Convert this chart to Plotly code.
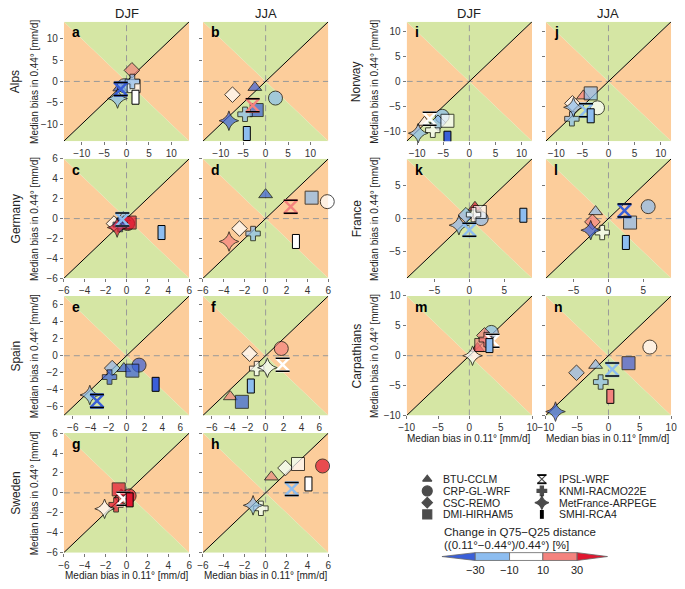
import plotly.graph_objects as go

W, H = 685, 589

models = ["BTU-CCLM", "CRP-GL-WRF", "CSC-REMO", "DMI-HIRHAM5",
          "IPSL-WRF", "KNMI-RACMO22E", "MetFrance-ARPEGE", "SMHI-RCA4"]
symbols = ["triangle-up", "circle", "diamond", "square",
           "hourglass-open", "cross", "star-diamond", "rect"]
sizes = [12, 14, 12, 13, 13, 12, 14, 0]

cat_keys = ["db", "lb", "w", "lr", "r"]
cat_colors = {"db": "#3a5fd8", "lb": "#8dbdf0", "w": "#ffffff",
              "lr": "#f4837e", "r": "#e0162f"}
cbar_ticks = ["\u221230", "\u221210", "10", "30"]

GREEN = "#d5e6a4"
ORANGE = "#fccd9b"

# ---- data (model order as in `models`) ----
a_x = [-1.5, -0.5, 1.2, 1.6, -1.3, 1.3, -2.0, 2.0]
a_y = [-1.5, -1.0, 2.6, -1.1, -1.8, 0.0, -4.0, -3.7]
a_c = ["db", "lb", "lr", "w", "db", "lb", "lb", "w"]

b_x = [-2.4, 2.2, -7.4, -2.0, -2.9, -4.6, -8.2, -4.2]
b_y = [-1.4, -3.9, -3.1, -6.7, -5.6, -7.7, -9.2, -12.2]
b_c = ["db", "lb", "w", "db", "lr", "lb", "db", "lb"]

c_x = [-0.3, 0.1, -1.2, 0.3, -0.4, -0.6, -0.9, 3.35]
c_y = [0.1, -0.5, -0.5, -0.4, -0.1, -0.6, -0.9, -1.4]
c_c = ["lb", "r", "w", "r", "lb", "db", "r", "lb"]

d_x = [0.0, 5.9, -2.5, 4.4, 2.4, -1.2, -3.5, 2.9]
d_y = [2.4, 1.7, -1.0, 2.1, 1.2, -1.5, -2.3, -2.3]
d_c = ["db", "w", "w", "lb", "lr", "lb", "lr", "w"]

e_x = [-0.3, 1.4, -1.6, 0.65, -3.3, -1.9, -4.1, 3.25]
e_y = [-1.5, -1.1, -1.45, -1.75, -5.3, -2.5, -4.6, -3.35]
e_c = ["db", "db", "lb", "db", "db", "db", "lb", "db"]

f_x = [-3.95, 1.75, -1.8, -2.65, 1.9, -1.0, 0.2, -1.65]
f_y = [-4.8, 0.85, 0.25, -5.4, -1.05, -1.5, -1.4, -3.55]
f_c = ["lr", "lr", "w", "db", "w", "w", "w", "lb"]

g_x = [-0.5, 0.25, -0.4, -0.75, -0.3, -1.0, -2.1, 0.3]
g_y = [-0.2, -0.3, -0.5, 0.35, -0.6, -1.2, -1.6, -0.7]
g_c = ["r", "r", "lr", "r", "w", "r", "w", "r"]

h_x = [0.55, 5.45, 1.9, 3.1, 2.5, -0.45, -1.2, 4.1]
h_y = [1.6, 2.7, 2.5, 2.9, 0.4, -1.55, -1.25, 0.9]
h_c = ["lr", "r", "w", "w", "lb", "w", "lb", "w"]

i_x = [-8.6, -5.2, -6.0, -4.2, -7.6, -7.0, -9.8, -4.2]
i_y = [-8.2, -7.0, -8.3, -7.9, -7.5, -9.8, -10.4, -11.4]
i_c = ["w", "lb", "lb", "w", "w", "w", "lb", "db"]

j_x = [-4.8, -2.1, -6.9, -3.4, -4.3, -7.0, -6.7, -3.4]
j_y = [-2.9, -5.3, -4.4, -2.4, -5.8, -7.5, -5.2, -6.9]
j_c = ["lr", "w", "w", "lb", "lb", "lb", "lb", "lb"]

k_x = [0.8, 1.7, -0.5, 1.5, 0.0, 0.6, -1.5, 7.75]
k_y = [1.7, 0.0, 0.5, 1.0, -1.7, 0.6, -1.0, 0.5]
k_c = ["r", "lb", "lb", "w", "lb", "w", "lb", "lb"]

l_x = [-1.85, 5.7, -2.3, 3.1, 2.3, -0.9, -2.55, 2.5]
l_y = [1.05, 1.8, -0.5, -0.6, 1.2, -2.1, -1.75, -3.6]
l_c = ["lb", "lb", "lr", "lb", "db", "w", "db", "lb"]

m_x = [1.3, 3.5, 2.4, 1.9, 3.7, 2.7, 0.5, 3.2]
m_y = [1.2, 3.9, 3.4, 1.8, 2.5, 2.7, 0.0, 1.7]
m_c = ["r", "lb", "lr", "lr", "w", "lr", "w", "lb"]

n_x = [-2.05, 6.6, -5.1, 3.2, 0.6, -1.25, -8.45, 0.3]
n_y = [-1.6, 1.45, -2.85, -1.25, -2.3, -4.4, -9.35, -6.8]
n_c = ["lb", "w", "lb", "db", "lb", "lb", "db", "lr"]

regions = ["Alps", "Germany", "Spain", "Sweden", "Norway", "France", "Carpathians"]
region_ranges = [14, 6, 7, 6, 12, 9, 10]
region_ticks = [[-10, -5, 0, 5, 10], [-6, -4, -2, 0, 2, 4, 6], [-6, -4, -2, 0, 2, 4, 6],
                [-6, -4, -2, 0, 2, 4, 6], [-10, -5, 0, 5, 10], [-5, 0, 5],
                [-10, -5, 0, 5, 10]]
seasons = ["DJF", "JJA"]

panel_data = [
    ("a", a_x, a_y, a_c), ("b", b_x, b_y, b_c),
    ("c", c_x, c_y, c_c), ("d", d_x, d_y, d_c),
    ("e", e_x, e_y, e_c), ("f", f_x, f_y, f_c),
    ("g", g_x, g_y, g_c), ("h", h_x, h_y, h_c),
    ("i", i_x, i_y, i_c), ("j", j_x, j_y, j_c),
    ("k", k_x, k_y, k_c), ("l", l_x, l_y, l_c),
    ("m", m_x, m_y, m_c), ("n", n_x, n_y, n_c),
]

# ---- layout geometry (pixels) ----
col_px = {("L", 0): (57, 185), ("L", 1): (199, 327),
          ("R", 0): (407, 535), ("R", 1): (549, 677)}
row_px = [(16, 138), (156, 278), (296, 418), (436, 558)]

fig = go.Figure()
layout = dict(width=W, height=H, margin=dict(l=0, r=0, t=0, b=0),
              paper_bgcolor="white", plot_bgcolor="rgba(0,0,0,0)",
              showlegend=False, font=dict(family="Liberation Sans", color="#222"))
shapes = []
annotations = []
OV = ("x15", "y15")


def ann(x, y, text, size=10, angle=0, xanchor="center", yanchor="middle", bold=False, color="#222"):
    annotations.append(dict(xref=OV[0], yref=OV[1], x=x, y=y, text=("<b>%s</b>" % text) if bold else text,
                            showarrow=False, textangle=angle, xanchor=xanchor, yanchor=yanchor,
                            font=dict(size=size, color=color, family="Liberation Sans")))


def hourglass_bars(xref, yref, xv, yv, half):
    for yy in (half, -half):
        shapes.append(dict(type="line", xref=xref, yref=yref, xsizemode="pixel", ysizemode="pixel",
                           xanchor=xv, yanchor=yv, x0=-half - 0.5, x1=half + 0.5, y0=yy, y1=yy,
                           line=dict(color="black", width=1.5), layer="above"))


for p, (letter, xs, ys, cs) in enumerate(panel_data):
    n = p + 1
    block = "L" if p < 8 else "R"
    q = p if p < 8 else p - 8
    row, col = q // 2, q % 2
    reg = row if block == "L" else 4 + row
    R = region_ranges[reg]
    tv = region_ticks[reg]
    x0, x1 = col_px[(block, col)]
    y0, y1 = row_px[row]
    xname = "xaxis" if n == 1 else "xaxis%d" % n
    yname = "yaxis" if n == 1 else "yaxis%d" % n
    xr = "x" if n == 1 else "x%d" % n
    yr = "y" if n == 1 else "y%d" % n
    axcommon = dict(range=[-R, R], tickvals=tv, showgrid=False, zeroline=False, showline=False,
                    ticks="outside", ticklen=3, tickcolor="#777", tickwidth=1,
                    tickfont=dict(size=10, color="#333", family="Liberation Sans"), fixedrange=True)
    layout[xname] = dict(axcommon, domain=[x0 / W, x1 / W], anchor=yr)
    layout[yname] = dict(axcommon, domain=[1 - y1 / H, 1 - y0 / H], anchor=xr,
                         showticklabels=(col == 0))

    # background triangles (left/right orange, top/bottom green)
    tris = [([-R, 0, -R, -R], [-R, 0, R, -R], ORANGE),
            ([R, 0, R, R], [-R, 0, R, -R], ORANGE),
            ([-R, 0, R, -R], [R, 0, R, R], GREEN),
            ([-R, 0, R, -R], [-R, 0, -R, -R], GREEN)]
    for tx_, ty_, colr in tris:
        fig.add_trace(go.Scatter(x=tx_, y=ty_, mode="lines", fill="toself", fillcolor=colr,
                                 line=dict(width=0, color=colr), xaxis=xr, yaxis=yr,
                                 hoverinfo="skip"))
    fig.add_trace(go.Scatter(x=[0, 0], y=[-R, R], mode="lines", xaxis=xr, yaxis=yr,
                             line=dict(color="#999", width=1, dash="6px,4px"), hoverinfo="skip"))
    fig.add_trace(go.Scatter(x=[-R, R], y=[0, 0], mode="lines", xaxis=xr, yaxis=yr,
                             line=dict(color="#999", width=1, dash="6px,4px"), hoverinfo="skip"))
    fig.add_trace(go.Scatter(x=[-R, R], y=[-R, R], mode="lines", xaxis=xr, yaxis=yr,
                             line=dict(color="black", width=1), hoverinfo="skip"))

    # filled markers
    idx = [i for i in range(len(models)) if symbols[i] not in ("hourglass-open", "rect")]
    fig.add_trace(go.Scatter(
        x=[xs[i] for i in idx], y=[ys[i] for i in idx], mode="markers", xaxis=xr, yaxis=yr,
        cliponaxis=False, hoverinfo="skip",
        marker=dict(symbol=[symbols[i] for i in idx], size=[sizes[i] for i in idx],
                    color=[cat_colors[cs[i]] for i in idx],
                    line=dict(color="black", width=1))))
    # hourglass (IPSL)
    hi = symbols.index("hourglass-open")
    fig.add_trace(go.Scatter(
        x=[xs[hi]], y=[ys[hi]], mode="markers", xaxis=xr, yaxis=yr, cliponaxis=False,
        hoverinfo="skip",
        marker=dict(symbol="hourglass-open", size=sizes[hi], color=cat_colors[cs[hi]],
                    line=dict(width=2.4))))
    hourglass_bars(xr, yr, xs[hi], ys[hi], sizes[hi] / 2)
    # SMHI rectangle
    ri = symbols.index("rect")
    shapes.append(dict(type="rect", xref=xr, yref=yr, xsizemode="pixel", ysizemode="pixel",
                       xanchor=xs[ri], yanchor=ys[ri], x0=-3.5, x1=3.5, y0=-7, y1=7,
                       fillcolor=cat_colors[cs[ri]], line=dict(color="black", width=1),
                       layer="above"))

    # panel letter
    ann(x0 + 6, y0 + 11, letter, size=14, xanchor="left", bold=True, color="black")
    # column titles
    if row == 0:
        ann((x0 + x1) / 2, 8, seasons[col], size=13)
    # region labels & y titles
    if col == 0:
        cy = (y0 + y1) / 2
        rx = 8 if block == "L" else 356
        tx = 27 if block == "L" else 374
        ann(rx, cy, regions[reg], size=12, angle=-90)
        ann(tx, cy, "Median bias in 0.44\u00b0 [mm/d]", size=10, angle=-90)
    # x titles on bottom panels
    if (block == "L" and row == 3) or (block == "R" and row == 2):
        ann((x0 + x1) / 2, y1 + 23, "Median bias in 0.11\u00b0 [mm/d]", size=10)

# ---- overlay pixel axis for legend / colorbar ----
layout["xaxis15"] = dict(domain=[0, 1], range=[0, W], visible=False, fixedrange=True, anchor="y15")
layout["yaxis15"] = dict(domain=[0, 1], range=[H, 0], visible=False, fixedrange=True, anchor="x15")

leg_cols = [(428, 442), (545, 560)]
leg_rows = [483, 495, 507, 519]
lx, ly, lsym, lsize = [], [], [], []
for i, name in enumerate(models):
    c = i // 4
    r = i % 4
    sx, tx = leg_cols[c]
    yy = leg_rows[r]
    ann(tx, yy, name, size=10.5, xanchor="left")
    if symbols[i] == "rect":
        shapes.append(dict(type="rect", xref="x15", yref="y15", x0=sx - 2, x1=sx + 2,
                           y0=yy - 4.5, y1=yy + 4.5, fillcolor="black", line=dict(width=0)))
    else:
        lx.append(sx)
        ly.append(yy)
        lsym.append(symbols[i])
        lsize.append(max(sizes[i] - 4, 8))
        if symbols[i] == "hourglass-open":
            for yb in (yy - 4, yy + 4):
                shapes.append(dict(type="line", xref="x15", yref="y15", x0=sx - 4.5, x1=sx + 4.5,
                                   y0=yb, y1=yb, line=dict(color="black", width=1.5)))
fig.add_trace(go.Scatter(x=lx, y=ly, mode="markers", xaxis="x15", yaxis="y15", hoverinfo="skip",
                         cliponaxis=False,
                         marker=dict(symbol=lsym, size=lsize, color="black",
                                     line=dict(color="black", width=1.2))))

ann(443, 537, "Change in Q75\u2212Q25 distance", size=11.5, xanchor="left")
ann(443, 550, "((0.11\u00b0\u22120.44\u00b0)/0.44\u00b0) [%]", size=11.5, xanchor="left")

cb_edges = [443, 477, 512, 546, 581, 612]
cb_top, cb_bot = 558, 566
cb_mid = (cb_top + cb_bot) / 2
for k, key in enumerate(cat_keys):
    xa, xb = cb_edges[k], cb_edges[k + 1]
    if k == 0:
        path = "M %g,%g L %g,%g L %g,%g Z" % (xa, cb_mid, xb, cb_top, xb, cb_bot)
    elif k == len(cat_keys) - 1:
        path = "M %g,%g L %g,%g L %g,%g Z" % (xa, cb_top, xb, cb_mid, xa, cb_bot)
    else:
        path = "M %g,%g L %g,%g L %g,%g L %g,%g Z" % (xa, cb_top, xb, cb_top, xb, cb_bot, xa, cb_bot)
    shapes.append(dict(type="path", xref="x15", yref="y15", path=path,
                       fillcolor=cat_colors[key], line=dict(color="#666", width=0.8)))
for k, t in enumerate(cbar_ticks):
    ann(cb_edges[k + 1], 576, t, size=11)

layout["shapes"] = shapes
layout["annotations"] = annotations
fig.update_layout(**layout)
fig.write_html("out.html", config={"displayModeBar": False, "staticPlot": True},
               post_script="document.body.style.margin='0px';document.body.style.overflow='hidden';")
